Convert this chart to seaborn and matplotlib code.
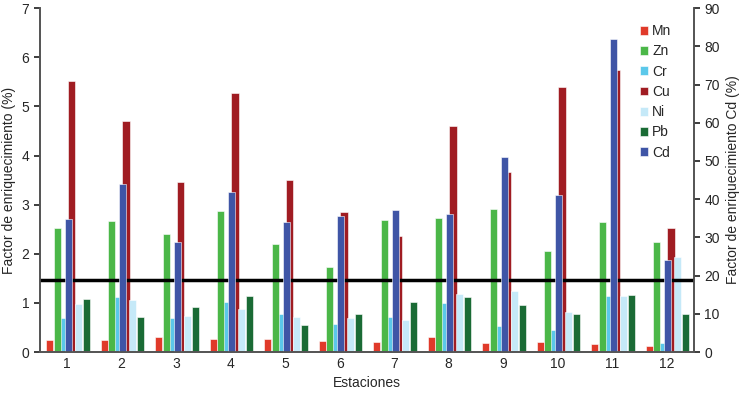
import numpy as np
import seaborn as sns
import matplotlib.pyplot as plt

estaciones = [str(i) for i in range(1, 13)]
mn = [0.25, 0.25, 0.30, 0.27, 0.27, 0.22, 0.20, 0.30, 0.18, 0.20, 0.17, 0.12]
zn = [2.52, 2.67, 2.40, 2.87, 2.20, 1.73, 2.68, 2.72, 2.92, 2.05, 2.64, 2.23]
cr = [0.70, 1.12, 0.70, 1.02, 0.78, 0.57, 0.72, 1.00, 0.53, 0.45, 1.14, 0.18]
cu = [5.52, 4.71, 3.47, 5.28, 3.50, 2.85, 2.36, 4.61, 3.66, 5.40, 5.74, 2.52]
ni = [0.97, 1.05, 0.73, 0.87, 0.72, 0.70, 0.65, 1.19, 1.24, 0.82, 1.14, 1.94]
pb = [1.08, 0.72, 0.92, 1.15, 0.55, 0.77, 1.01, 1.12, 0.95, 0.78, 1.17, 0.78]
cd = [34.7, 44.1, 28.9, 41.8, 34.0, 35.7, 37.2, 36.0, 51.0, 41.0, 82.0, 24.0]
umbral = 1.47

sns.set_theme(style="white")
plt.rcParams['font.family'] = ['Liberation Sans', 'DejaVu Sans']

fig = plt.figure(figsize=(7.39, 4.07), dpi=100)
ax = fig.add_axes([0.054, 0.135, 0.885, 0.845])
ax2 = ax.twinx()

x = np.arange(1, 13)
w = 0.13
series = [
    ("Cr", cr, -0.09, "#5bc8ea"),
    ("Zn", zn, -0.18, "#4bb748"),
    ("Mn", mn, -0.32, "#e03a2a"),
    ("Cu", cu, 0.08, "#a01c22"),
    ("Ni", ni, 0.20, "#c5e9f8"),
    ("Pb", pb, 0.35, "#1a6b35"),
]
handles = {}
for name, vals, off, col in series:
    handles[name] = ax.bar(x + off, vals, width=w, color=col, edgecolor="white", linewidth=0.4)
handles["Cd"] = ax2.bar(x + 0.02, cd, width=w, color="#3f55a6", edgecolor="white", linewidth=0.4)
ax.axhline(umbral, color="black", linewidth=2.5, zorder=5)

ax.set_xlim(0.5, 12.5)
ax.set_ylim(0, 7)
ax2.set_ylim(0, 90)
ax.set_xticks(x)
ax.set_xticklabels(estaciones)
ax.set_xticks(np.arange(0.5, 13, 1), minor=True)
ax.tick_params(axis="x", which="minor", length=4, direction="out", color="#555")
ax.tick_params(axis="x", which="major", length=0, labelsize=10)
ax.tick_params(axis="y", length=4, direction="out", labelsize=10, left=True)
ax2.tick_params(axis="y", length=4, direction="out", labelsize=10, right=True)
for a in (ax, ax2):
    for s in ["top"]:
        a.spines[s].set_visible(False)
    a.spines["left"].set_color("#555")
    a.spines["right"].set_color("#555")
    a.spines["bottom"].set_color("#555")
ax.set_xlabel("Estaciones", fontsize=10)
ax.set_ylabel("Factor de enriquecimiento (%)", fontsize=10)
ax2.set_ylabel("Factor de enriquecimiento Cd (%)", fontsize=10)

order = ["Mn", "Zn", "Cr", "Cu", "Ni", "Pb", "Cd"]
ax2.legend([handles[n] for n in order], order, loc="upper right", bbox_to_anchor=(0.985, 0.99),
           frameon=False, fontsize=10, handlelength=0.6, handleheight=0.6,
           handletextpad=0.3, labelspacing=0.45)

fig.savefig("out.png", dpi=100)
